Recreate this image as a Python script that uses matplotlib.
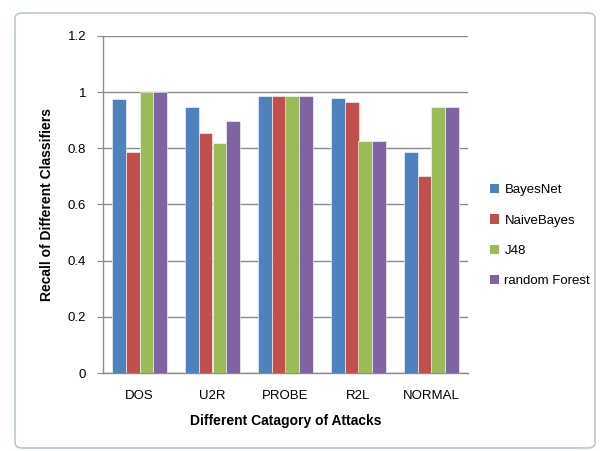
import matplotlib
matplotlib.use("Agg")
import matplotlib.pyplot as plt
import numpy as np
from matplotlib.patches import FancyBboxPatch, Patch

categories = ["DOS", "U2R", "PROBE", "R2L", "NORMAL"]
series_names = ["BayesNet", "NaiveBayes", "J48", "random Forest"]
bayesnet = [0.976, 0.948, 0.985, 0.981, 0.788]
naivebayes = [0.788, 0.855, 0.985, 0.964, 0.702]
j48 = [0.999, 0.818, 0.985, 0.826, 0.948]
random_forest = [1.0, 0.898, 0.988, 0.826, 0.948]
yticks = [0, 0.2, 0.4, 0.6, 0.8, 1, 1.2]
ytick_labels = ["0", "0.2", "0.4", "0.6", "0.8", "1", "1.2"]

colors = ["#4F81BD", "#C0504D", "#9BBB59", "#8064A2"]
plt.rcParams['font.family'] = ['Liberation Sans', 'DejaVu Sans']

fig = plt.figure(figsize=(6.0, 4.51), dpi=100)
# outer frame
frame = FancyBboxPatch((15/600, 3/451), 580/600, 435/451, boxstyle="round,pad=0,rounding_size=0.012",
                       transform=fig.transFigure, fill=False, edgecolor="#b9c9cc", linewidth=1.2)
fig.patches.append(frame)

ax = fig.add_axes([103/600, (451-373)/451, 365/600, 337/451])
x = np.arange(len(categories))
w = 0.185
data = [bayesnet, naivebayes, j48, random_forest]
for i, (vals, c) in enumerate(zip(data, colors)):
    ax.bar(x + (i - 1.5) * w, vals, width=w, color=c, edgecolor="white", linewidth=0.4, zorder=3)

ax.set_xlim(-0.5, len(categories) - 0.5)
ax.set_ylim(0, 1.2)
ax.set_yticks(yticks)
ax.set_yticklabels(ytick_labels, fontsize=9.5)
ax.set_xticks(x)
ax.set_xticklabels(categories, fontsize=9.5)
ax.tick_params(axis='x', length=0, pad=12)
ax.tick_params(axis='y', length=4, color="#8c8c8c", pad=8)
ax.grid(axis='y', color="#8c8c8c", linewidth=1.0, zorder=0)
for s in ["top", "right"]:
    ax.spines[s].set_visible(False)
for s in ["left", "bottom"]:
    ax.spines[s].set_color("#8c8c8c")
    ax.spines[s].set_linewidth(1.0)

ax.set_xlabel("Different Catagory of Attacks", fontsize=10, fontweight="bold", labelpad=9)
ax.set_ylabel("Recall of Different Classifiers", fontsize=10, fontweight="bold", labelpad=10)

handles = [Patch(facecolor=c, edgecolor="none") for c in colors]
fig.legend(handles, series_names, loc="upper left", bbox_to_anchor=(478/600, 1 - 172/451),
           frameon=False, fontsize=9.5, handlelength=0.7, handleheight=0.7, handletextpad=0.4,
           labelspacing=1.38)

fig.savefig("out.png", dpi=100)
